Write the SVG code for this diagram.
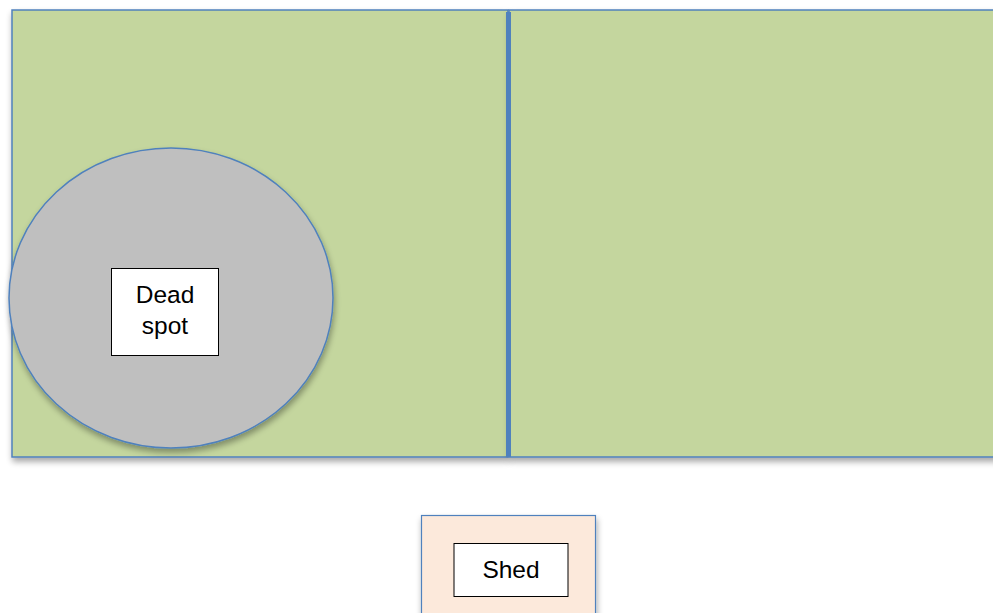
<svg xmlns="http://www.w3.org/2000/svg" width="993" height="613" viewBox="0 0 993 613">
<defs>
<style>
.lawn{fill:#C4D69E;stroke:#4F81BD;stroke-width:1.5}
.lbl{fill:#FFFFFF;stroke:#000000;stroke-width:1}
.txt{font-family:"Liberation Sans",Arial,sans-serif;font-size:24.5px;fill:#000000;text-anchor:middle}
</style>
<filter id="sh" x="-10%" y="-10%" width="130%" height="130%">
<feGaussianBlur in="SourceAlpha" stdDeviation="3"/>
<feOffset dx="1" dy="4" result="b"/>
<feComponentTransfer><feFuncA type="linear" slope="0.35"/></feComponentTransfer>
<feMerge><feMergeNode/><feMergeNode in="SourceGraphic"/></feMerge>
</filter>
</defs>
<g id="lawn-left" filter="url(#sh)">
<rect class="lawn" x="12" y="10" width="496" height="447"/>
</g>
<g id="lawn-right" filter="url(#sh)">
<rect class="lawn" x="509" y="10" width="490" height="447"/>
</g>
<g id="divider">
<rect x="506" y="12" width="5" height="445" fill="#4F81BD"/>
</g>
<g id="dead-spot" filter="url(#sh)">
<ellipse cx="171" cy="298" rx="162" ry="150" fill="#BFBFBF" stroke="#4F81BD" stroke-width="1.5"/>
</g>
<g id="dead-spot-label">
<rect class="lbl" x="111.5" y="268.5" width="107" height="87"/>
<text class="txt" x="165" y="303">Dead</text>
<text class="txt" x="165" y="334">spot</text>
</g>
<g id="shed" filter="url(#sh)">
<rect x="421.5" y="515.5" width="174" height="110" fill="#FCE9DB" stroke="#4F81BD" stroke-width="1.2"/>
</g>
<g id="shed-label">
<rect class="lbl" x="454" y="543.5" width="114" height="53"/>
<text class="txt" x="511" y="578">Shed</text>
</g>
<g id="connectors"/>
</svg>
